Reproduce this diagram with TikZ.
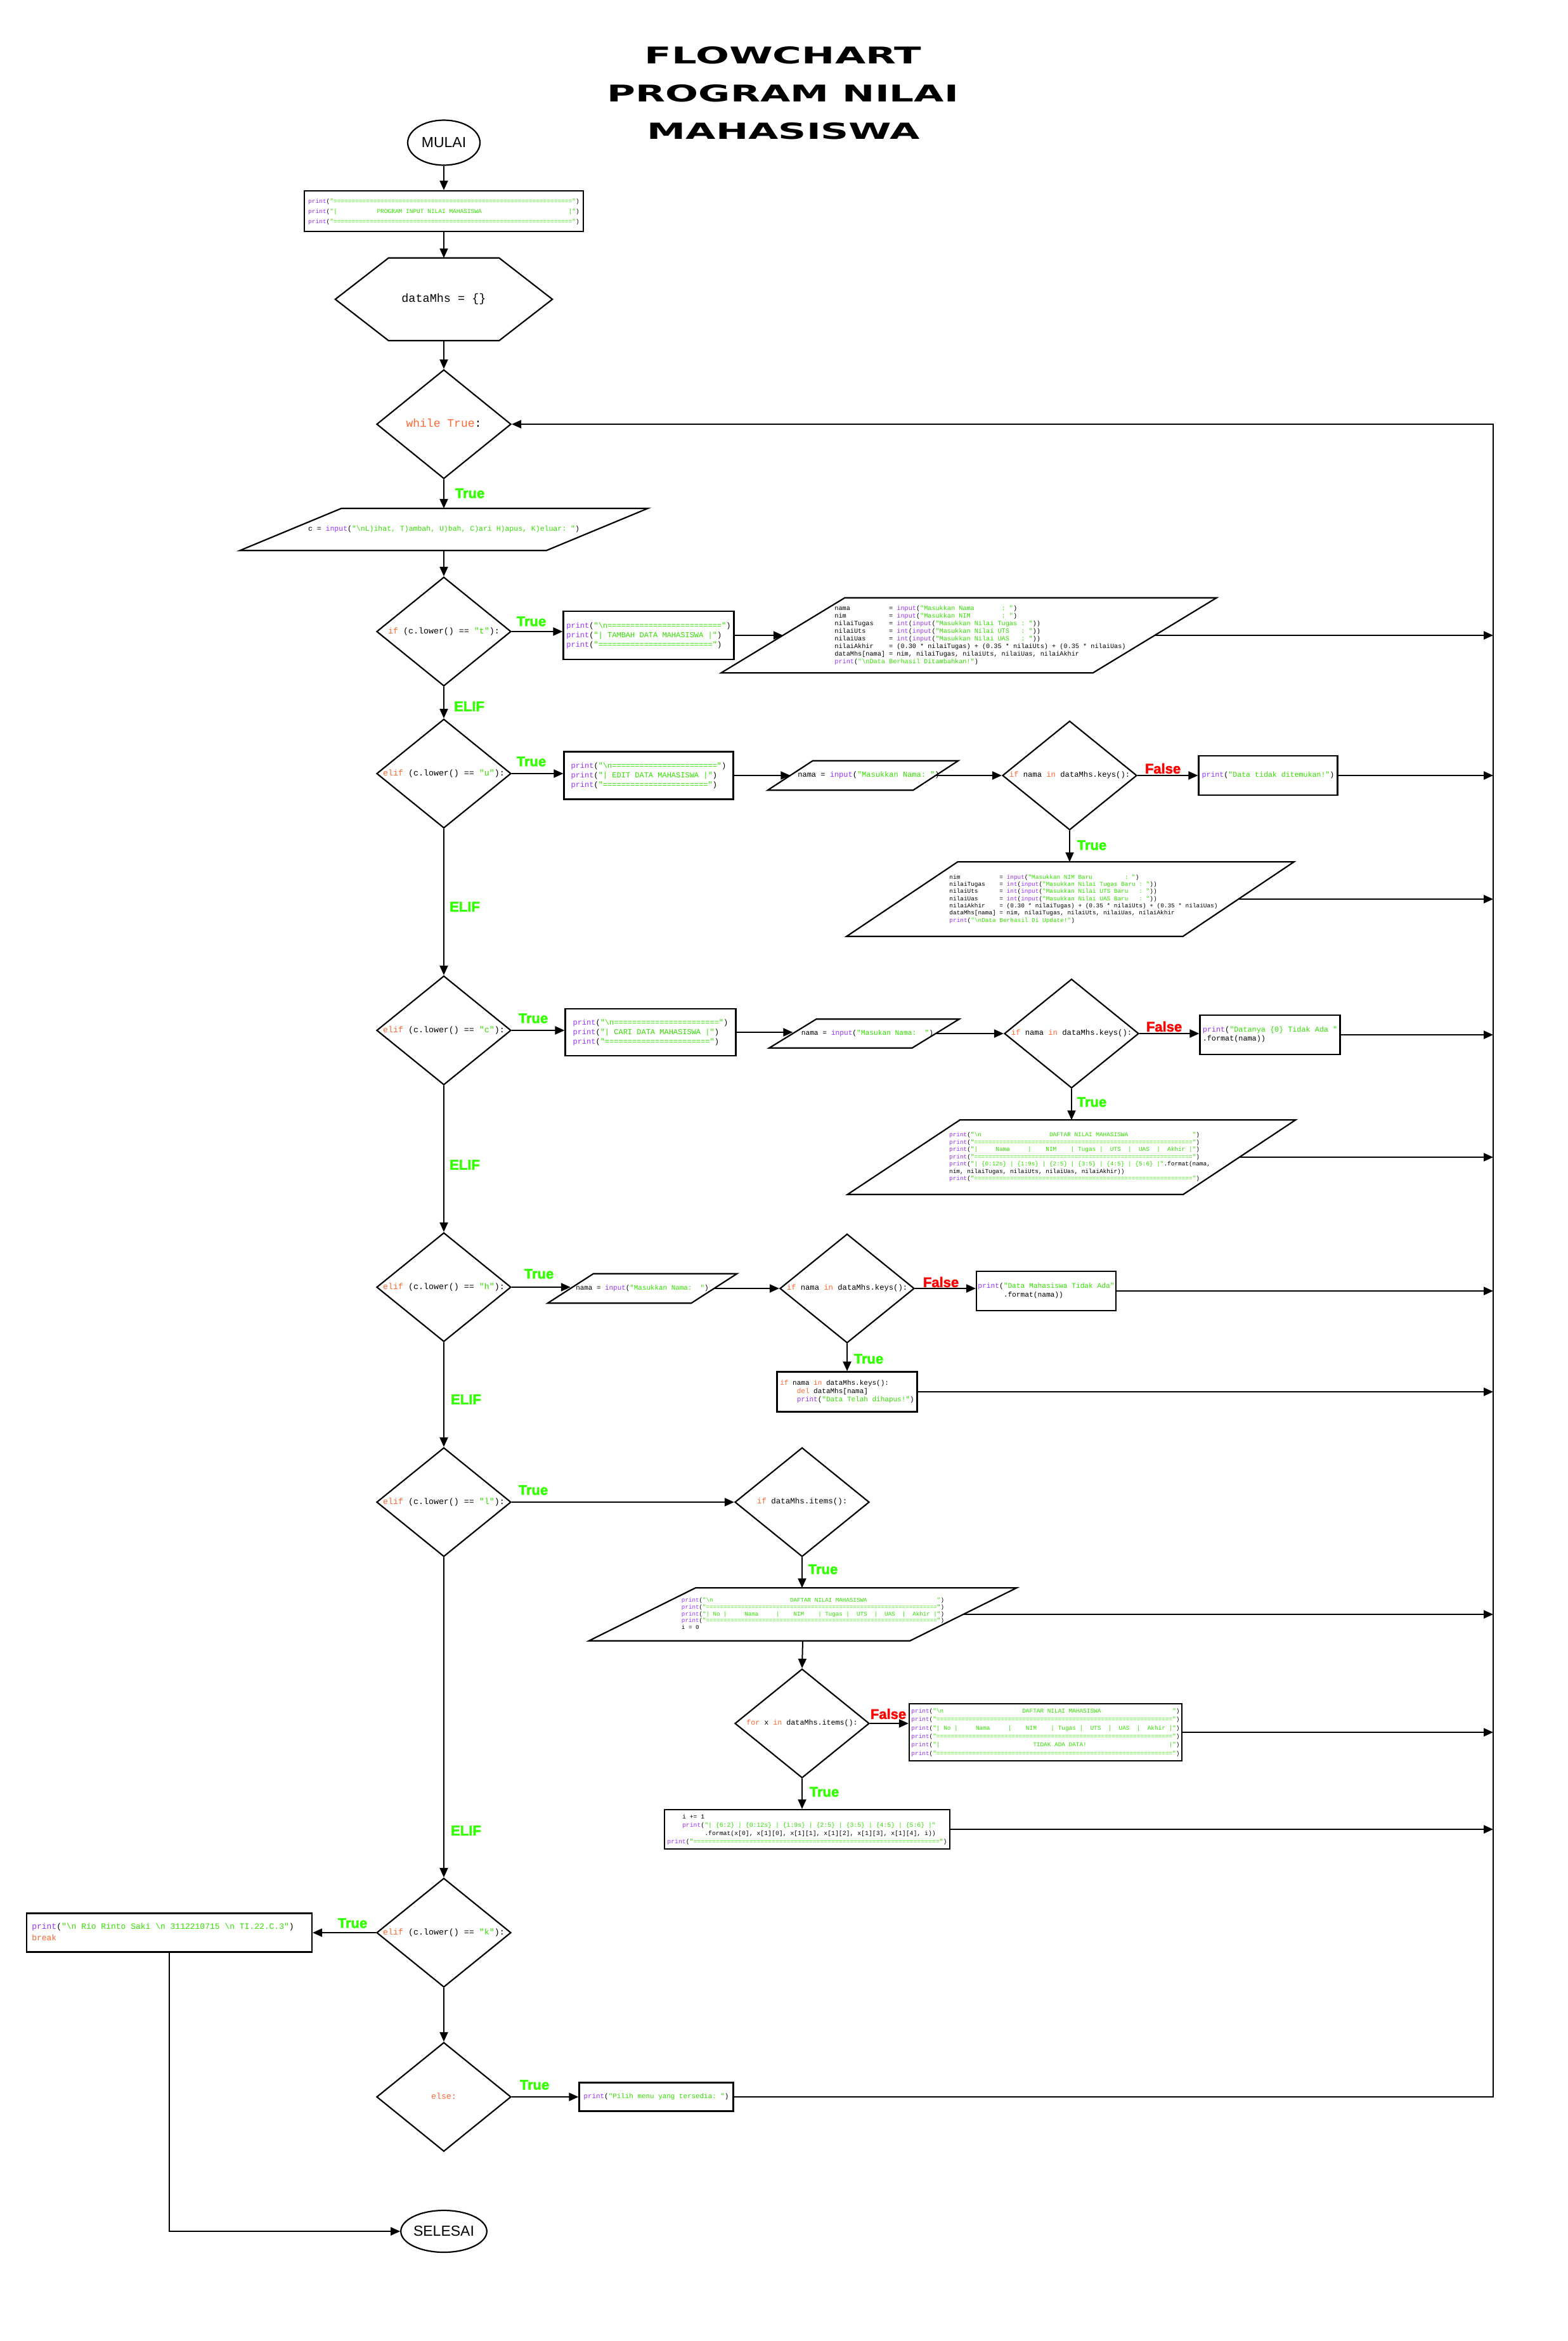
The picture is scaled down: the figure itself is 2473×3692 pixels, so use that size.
\documentclass[tikz,border=0pt]{standalone}
\usepackage{fontspec}
\setmainfont{Liberation Sans}
\setsansfont{Liberation Sans}
\setmonofont{Liberation Mono}
\newfontfamily\titlefont{DejaVu Sans}
\newfontface\heavyface[FakeBold=2]{Liberation Sans Bold}
\usetikzlibrary{shapes.geometric,arrows.meta,calc}

\definecolor{kwc}{HTML}{FF6633}
\definecolor{fnc}{HTML}{9933FF}
\definecolor{stc}{HTML}{33E000}
\definecolor{truec}{HTML}{33FF00}
\definecolor{falsec}{HTML}{FF0000}

\ExplSyntaxOn
\cs_new:Npn \eqrun #1 { \prg_replicate:nn {#1} {=} }
\ExplSyntaxOff
% n fixed-width blanks of the current mono font
\newcommand\cspc[1]{\hspace*{#1\fontcharwd\font`\M}}
\newcommand\bsn{\textbackslash n}
\newcommand\ckw[1]{\textcolor{kwc}{#1}}
\newcommand\cfn[1]{\textcolor{fnc}{#1}}
\newcommand\cst[1]{\textcolor{stc}{#1}}
% code block: size, baselineskip, lines
\newcommand\cb[3]{\makebox[0pt]{\fontsize{#1}{#2}\selectfont\ttfamily\begin{tabular}{@{}l@{}}#3\end{tabular}}}
% code block moved sideways by half of #1
\newcommand\cbs[4]{\makebox[0pt]{\hspace*{#1}\fontsize{#2}{#3}\selectfont\ttfamily\begin{tabular}{@{}l@{}}#4\end{tabular}}}
% parallelogram outline around a placeholder node (node width = mid width)
\newcommand\parab[2]{\draw[pshp] ($(#1.south west)+(-#2,0)$) -- ($(#1.north west)+(#2,0)$) -- ($(#1.north east)+(#2,0)$) -- ($(#1.south east)+(-#2,0)$) -- cycle;}

\begin{document}
\begin{tikzpicture}[x=1pt,y=-1pt,
  pshp/.style={draw, line width=2.2pt},
  pbox/.style={pshp, rectangle, inner sep=0pt},
  pdia/.style={pshp, diamond, inner sep=0pt, minimum width=212pt, minimum height=172pt},
  phold/.style={rectangle, inner sep=0pt},
  parr/.style={draw, line width=2pt, -{Triangle[length=15pt,width=13pt]}},
  pline/.style={draw, line width=2pt},
  plbt/.style={font=\fontsize{22}{22}\selectfont\heavyface, text=truec, inner sep=0pt},
  plbf/.style={font=\fontsize{22}{22}\selectfont\heavyface, text=falsec, inner sep=0pt},
  pterm/.style={pshp, ellipse, inner sep=0pt, font=\fontsize{23}{23}\selectfont}
]
\fill[white] (0,0) rectangle (2473,3692);
\useasboundingbox (0,0) rectangle (2473,3692);

% ---------- title ----------
\node (title1) at (1235,87) {\resizebox{436pt}{27pt}{\titlefont\bfseries FLOWCHART}};
\node (title2) at (1235,147) {\resizebox{554pt}{27pt}{\titlefont\bfseries PROGRAM NILAI}};
\node (title3) at (1236,207) {\resizebox{430pt}{26pt}{\titlefont\bfseries MAHASISWA}};

% ---------- main column ----------
\node[pterm, minimum width=114pt, minimum height=71pt] (start) at (700,225) {MULAI};

\node[pbox, minimum width=440pt, minimum height=64pt] (banner) at (700,333) {\cb{9.5}{16}{%
\cfn{print}(\cst{"\eqrun{66}"})\\
\cfn{print}(\cst{"|\cspc{11}PROGRAM INPUT NILAI MAHASISWA\cspc{24}|"})\\
\cfn{print}(\cst{"\eqrun{66}"})}};

\node[phold, minimum width=342pt, minimum height=130pt] (init) at (700,472) {\cb{18.5}{20}{dataMhs = \{\}}};
\draw[pshp] (init.west) -- ($(init.north west)+(84,0)$) -- ($(init.north east)+(-84,0)$) -- (init.east) -- ($(init.south east)+(-84,0)$) -- ($(init.south west)+(84,0)$) -- cycle;

\node[pdia] (loop) at (700,669) {\cb{18}{20}{\ckw{while} \ckw{True}:}};

\node[phold, minimum width=483pt, minimum height=66pt] (menu) at (700,835) {\cb{11.5}{13}{%
c = \cfn{input}(\cst{"\bsn{}L)ihat, T)ambah, U)bah, C)ari H)apus, K)eluar: "})}};
\parab{menu}{80}

\node[pdia] (d1) at (700,996) {\cb{13.3}{15}{\ckw{if} (c.lower() == \cst{"t"}):}};
\node[pdia] (d2) at (700,1220) {\cb{13.3}{15}{\ckw{elif} (c.lower() == \cst{"u"}):}};
\node[pdia] (d3) at (700,1625) {\cb{13.3}{15}{\ckw{elif} (c.lower() == \cst{"c"}):}};
\node[pdia] (d4) at (700,2030) {\cb{13.3}{15}{\ckw{elif} (c.lower() == \cst{"h"}):}};
\node[pdia] (d5) at (700,2369) {\cb{13.3}{15}{\ckw{elif} (c.lower() == \cst{"l"}):}};
\node[pdia] (d6) at (700,3048) {\cb{13.3}{15}{\ckw{elif} (c.lower() == \cst{"k"}):}};
\node[pdia] (d7) at (700,3307) {\cb{13.3}{15}{\ckw{else:}}};

\node[pterm, minimum width=113pt, minimum height=66pt] (stop) at (700,3519) {SELESAI};

% ---------- tambah ----------
\node[pbox, minimum width=269pt, minimum height=76pt] (t1) at (1023,1002) {\cb{12}{15}{%
\cfn{print}(\cst{"\bsn\eqrun{25}"})\\
\cfn{print}(\cst{"| TAMBAH DATA MAHASISWA |"})\\
\cfn{print}(\cst{"\eqrun{25}"})}};

\node[phold, minimum width=586pt, minimum height=118pt] (t2) at (1528,1002) {\cbs{36pt}{10.2}{12.1}{%
nama\cspc{10}= \cfn{input}(\cst{"Masukkan Nama\cspc{7}: "})\\
nim\cspc{11}= \cfn{input}(\cst{"Masukkan NIM\cspc{8}: "})\\
nilaiTugas\cspc{4}= \cfn{int}(\cfn{input}(\cst{"Masukkan Nilai Tugas : "}))\\
nilaiUts\cspc{6}= \cfn{int}(\cfn{input}(\cst{"Masukkan Nilai UTS\cspc{3}: "}))\\
nilaiUas\cspc{6}= \cfn{int}(\cfn{input}(\cst{"Masukkan Nilai UAS\cspc{3}: "}))\\
nilaiAkhir\cspc{4}= (0.30 * nilaiTugas) + (0.35 * nilaiUts) + (0.35 * nilaiUas)\\
dataMhs{[}nama{]} = nim, nilaiTugas, nilaiUts, nilaiUas, nilaiAkhir\\
\cfn{print}(\cst{"\bsn{}Data Berhasil Ditambahkan!"})}};
\parab{t2}{97.5}

% ---------- ubah ----------
\node[pbox, minimum width=267pt, minimum height=75pt] (u1) at (1023,1223) {\cb{12}{15}{%
\cfn{print}(\cst{"\bsn\eqrun{23}"})\\
\cfn{print}(\cst{"| EDIT DATA MAHASISWA |"})\\
\cfn{print}(\cst{"\eqrun{23}"})}};

\node[phold, minimum width=229pt, minimum height=46pt] (u2) at (1361,1223) {\cbs{18pt}{12}{14}{%
nama = \cfn{input}(\cst{"Masukkan Nama: "})}};
\parab{u2}{35.5}

\node[pdia] (u3) at (1687,1223) {\cb{12.2}{14}{\ckw{if} nama \ckw{in} dataMhs.keys():}};

\node[pbox, minimum width=219pt, minimum height=62pt] (u4) at (2000,1223) {\cb{11.6}{14}{%
\cfn{print}(\cst{"Data tidak ditemukan!"})}};

\node[phold, minimum width=530pt, minimum height=117pt] (u5) at (1688,1418) {\cbs{42pt}{9.4}{11.3}{%
nim\cspc{11}= \cfn{input}(\cst{"Masukkan NIM Baru\cspc{9}: "})\\
nilaiTugas\cspc{4}= \cfn{int}(\cfn{input}(\cst{"Masukkan Nilai Tugas Baru : "}))\\
nilaiUts\cspc{6}= \cfn{int}(\cfn{input}(\cst{"Masukkan Nilai UTS Baru\cspc{3}: "}))\\
nilaiUas\cspc{6}= \cfn{int}(\cfn{input}(\cst{"Masukkan Nilai UAS Baru\cspc{3}: "}))\\
nilaiAkhir\cspc{4}= (0.30 * nilaiTugas) + (0.35 * nilaiUts) + (0.35 * nilaiUas)\\
dataMhs{[}nama{]} = nim, nilaiTugas, nilaiUts, nilaiUas, nilaiAkhir\\
\cfn{print}(\cst{"\bsn{}Data Berhasil Di Update!"})}};
\parab{u5}{87.5}

% ---------- cari ----------
\node[pbox, minimum width=269pt, minimum height=74pt] (c1) at (1026,1628) {\cb{12}{15}{%
\cfn{print}(\cst{"\bsn\eqrun{23}"})\\
\cfn{print}(\cst{"| CARI DATA MAHASISWA |"})\\
\cfn{print}(\cst{"\eqrun{23}"})}};

\node[phold, minimum width=225pt, minimum height=45pt] (c2) at (1363,1630) {\cbs{10pt}{11.2}{13}{%
nama = \cfn{input}(\cst{"Masukan Nama:\cspc{2}"})}};
\parab{c2}{37}

\node[pdia] (c3) at (1690,1630) {\cb{12.2}{14}{\ckw{if} nama \ckw{in} dataMhs.keys():}};

\node[pbox, minimum width=221pt, minimum height=62pt] (c4) at (2003,1632) {\cb{11.8}{14}{%
\cfn{print}(\cst{"Datanya \{0\} Tidak Ada "}\\
.format(nama))}};

\node[phold, minimum width=529pt, minimum height=117pt] (c5) at (1690,1825) {\cbs{26pt}{9.4}{11.5}{%
\cfn{print}(\cst{"\bsn\cspc{19}DAFTAR NILAI MAHASISWA\cspc{18}"})\\
\cfn{print}(\cst{"\eqrun{61}"})\\
\cfn{print}(\cst{"|\cspc{5}Nama\cspc{5}|\cspc{4}NIM\cspc{4}| Tugas |\cspc{2}UTS\cspc{2}|\cspc{2}UAS\cspc{2}|\cspc{2}Akhir |"})\\
\cfn{print}(\cst{"\eqrun{61}"})\\
\cfn{print}(\cst{"| \{0:12s\} | \{1:9s\} | \{2:5\} | \{3:5\} | \{4:5\} | \{5:6\} |"}.format(nama,\\
nim, nilaiTugas, nilaiUts, nilaiUas, nilaiAkhir))\\
\cfn{print}(\cst{"\eqrun{61}"})}};
\parab{c5}{88.5}

% ---------- hapus ----------
\node[phold, minimum width=226pt, minimum height=46pt] (h1) at (1013,2032) {\cb{10.9}{13}{%
nama = \cfn{input}(\cst{"Masukkan Nama:\cspc{2}"})}};
\parab{h1}{36}

\node[pdia] (h2) at (1336,2032) {\cb{12.2}{14}{\ckw{if} nama \ckw{in} dataMhs.keys():}};

\node[pbox, minimum width=220pt, minimum height=62pt] (h3) at (1650,2036) {\cb{11.2}{14}{%
\cfn{print}(\cst{"Data Mahasiswa Tidak Ada"}\\
\cspc{6}.format(nama))}};

\node[pbox, minimum width=221pt, minimum height=63pt] (h4) at (1336,2195) {\cb{11}{13}{%
\ckw{if} nama \ckw{in} dataMhs.keys():\\
\cspc{4}\ckw{del} dataMhs{[}nama{]}\\
\cspc{4}\cfn{print}(\cst{"Data Telah dihapus!"})}};

% ---------- lihat ----------
\node[pdia] (l1) at (1265,2369) {\cb{12.5}{14}{\ckw{if} dataMhs.items():}};

\node[phold, minimum width=506pt, minimum height=83pt] (l2) at (1266,2546) {\cbs{32pt}{9.2}{10.8}{%
\cfn{print}(\cst{"\bsn\cspc{22}DAFTAR NILAI MAHASISWA\cspc{20}"})\\
\cfn{print}(\cst{"\eqrun{66}"})\\
\cfn{print}(\cst{"| No |\cspc{5}Nama\cspc{5}|\cspc{4}NIM\cspc{4}| Tugas |\cspc{2}UTS\cspc{2}|\cspc{2}UAS\cspc{2}|\cspc{2}Akhir |"})\\
\cfn{print}(\cst{"\eqrun{66}"})\\
i = 0}};
\parab{l2}{84}

\node[pdia] (l3) at (1265,2718) {\cb{11.7}{14}{\ckw{for} x \ckw{in} dataMhs.items():}};

\node[pbox, minimum width=430pt, minimum height=90pt] (l4) at (1649,2732) {\cb{9.4}{13.4}{%
\cfn{print}(\cst{"\bsn\cspc{22}DAFTAR NILAI MAHASISWA\cspc{20}"})\\
\cfn{print}(\cst{"\eqrun{66}"})\\
\cfn{print}(\cst{"| No |\cspc{5}Nama\cspc{5}|\cspc{4}NIM\cspc{4}| Tugas |\cspc{2}UTS\cspc{2}|\cspc{2}UAS\cspc{2}|\cspc{2}Akhir |"})\\
\cfn{print}(\cst{"\eqrun{66}"})\\
\cfn{print}(\cst{"|\cspc{26}TIDAK ADA DATA!\cspc{23}|"})\\
\cfn{print}(\cst{"\eqrun{66}"})}};

\node[pbox, minimum width=450pt, minimum height=62pt] (l5) at (1273,2885) {\cb{9.8}{13}{%
\cspc{4}i += 1\\
\cspc{4}\cfn{print}(\cst{"| \{6:2\} | \{0:12s\} | \{1:9s\} | \{2:5\} | \{3:5\} | \{4:5\} | \{5:6\} |"}\\
\cspc{10}.format(x{[}0{]}, x{[}1{]}{[}0{]}, x{[}1{]}{[}1{]}, x{[}1{]}{[}2{]}, x{[}1{]}{[}3{]}, x{[}1{]}{[}4{]}, i))\\
\cfn{print}(\cst{"\eqrun{66}"})}};

% ---------- keluar / else ----------
\node[pbox, minimum width=450pt, minimum height=61pt] (k1) at (267,3048) {\cbs{-20pt}{13}{18}{%
\cfn{print}(\cst{"\bsn{} Rio Rinto Saki \bsn{} 3112210715 \bsn{} TI.22.C.3"})\\
\ckw{break}}};

\node[pbox, minimum width=243pt, minimum height=45pt] (e1) at (1035,3307) {\cb{10.9}{13}{%
\cfn{print}(\cst{"Pilih menu yang tersedia: "})}};

% ---------- return rail ----------
\coordinate (rtop) at (2355,669);
\coordinate (rbot) at (2355,3307);

% ---------- connectors: main column ----------
\draw[parr] (start) -- (banner);
\draw[parr] (banner) -- (init);
\draw[parr] (init) -- (loop);
\draw[parr] (loop) -- (menu);
\draw[parr] (menu) -- (d1);
\draw[parr] (d1) -- (d2);
\draw[parr] (d2) -- (d3);
\draw[parr] (d3) -- (d4);
\draw[parr] (d4) -- (d5);
\draw[parr] (d5) -- (d6);
\draw[parr] (d6) -- (d7);

% tambah
\draw[parr] (d1.east) -- (d1.east -| t1.west);
\draw[parr] (t1.east) -- (t1.east -| t2.west);
\draw[parr] (t2.east) -- (t2.east -| rtop);
% ubah
\draw[parr] (d2.east) -- (d2.east -| u1.west);
\draw[parr] (u1.east) -- (u1.east -| u2.west);
\draw[parr] (u2.east) -- (u3.west);
\draw[parr] (u3.east) -- (u4.west);
\draw[parr] (u4.east) -- (u4.east -| rtop);
\draw[parr] (u3.south) -- (u3.south |- u5.north);
\draw[parr] (u5.east) -- (u5.east -| rtop);
% cari
\draw[parr] (d3.east) -- (d3.east -| c1.west);
\draw[parr] (c1.east) -- (c1.east -| c2.west);
\draw[parr] (c2.east) -- (c3.west);
\draw[parr] (c3.east) -- (c3.east -| c4.west);
\draw[parr] (c4.east) -- (c4.east -| rtop);
\draw[parr] (c3.south) -- (c3.south |- c5.north);
\draw[parr] (c5.east) -- (c5.east -| rtop);
% hapus
\draw[parr] (d4.east) -- (d4.east -| h1.west);
\draw[parr] (h1.east) -- (h2.west);
\draw[parr] (h2.east) -- (h2.east -| h3.west);
\draw[parr] (h3.east) -- (h3.east -| rtop);
\draw[parr] (h2.south) -- (h4.north);
\draw[parr] (h4.east) -- (h4.east -| rtop);
% lihat
\draw[parr] (d5.east) -- (l1.west);
\draw[parr] (l1.south) -- (l1.south |- l2.north);
\draw[parr] (l2.east) -- (l2.east -| rtop);
\draw[parr] (l2.south) -- (l3.north);
\draw[parr] (l3.east) -- (l3.east -| l4.west);
\draw[parr] (l4.east) -- (l4.east -| rtop);
\draw[parr] (l3.south) -- (l3.south |- l5.north);
\draw[parr] (l5.east) -- (l5.east -| rtop);
% keluar
\draw[parr] (d6.west) -- (k1.east);
\draw[parr] (k1.south) |- (stop.west);
% else and loop back
\draw[parr] (d7.east) -- (e1.west);
\draw[parr] (e1.east) -- (rbot) -- (rtop) -- (loop.east);

% ---------- branch labels ----------
\node[plbt] (lb1) at (741,778) {True};
\node[plbt] (lb2) at (838,980) {True};
\node[plbt] (lb3) at (740,1114) {ELIF};
\node[plbt] (lb4) at (838,1201) {True};
\node[plbt] (lb5) at (733,1430) {ELIF};
\node[plbf] (lb6) at (1834,1212) {False};
\node[plbt] (lb7) at (1722,1333) {True};
\node[plbt] (lb8) at (841,1606) {True};
\node[plbf] (lb9) at (1836,1619) {False};
\node[plbt] (lb10) at (1722,1738) {True};
\node[plbt] (lb11) at (733,1837) {ELIF};
\node[plbt] (lb12) at (850,2009) {True};
\node[plbf] (lb13) at (1484,2022) {False};
\node[plbt] (lb14) at (1370,2143) {True};
\node[plbt] (lb15) at (735,2207) {ELIF};
\node[plbt] (lb16) at (841,2350) {True};
\node[plbt] (lb17) at (1298,2475) {True};
\node[plbf] (lb18) at (1401,2703) {False};
\node[plbt] (lb19) at (1300,2826) {True};
\node[plbt] (lb20) at (735,2887) {ELIF};
\node[plbt] (lb21) at (556,3033) {True};
\node[plbt] (lb22) at (843,3288) {True};
\end{tikzpicture}
\end{document}
